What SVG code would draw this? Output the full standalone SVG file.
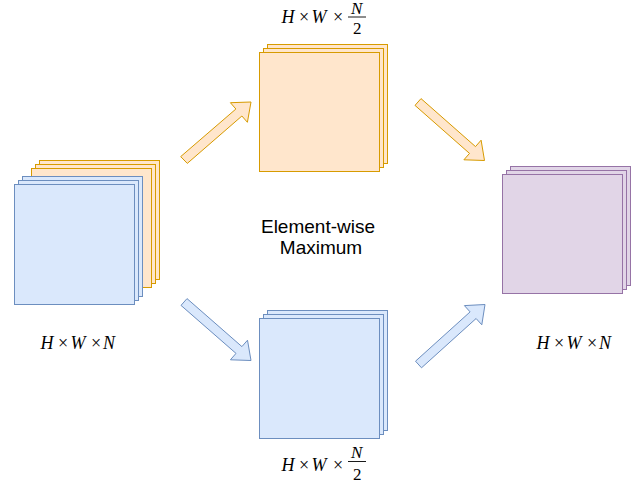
<svg xmlns="http://www.w3.org/2000/svg" width="641" height="486" viewBox="0 0 641 486">
<style>
.o{fill:#ffe6cc;stroke:#d79b00;stroke-width:1}
.b{fill:#dae8fc;stroke:#6c8ebf;stroke-width:1}
.p{fill:#e1d5e7;stroke:#9673a6;stroke-width:1}
.m{font-family:"Liberation Serif","Times New Roman",serif;font-size:18px;fill:#000}
.f{font-size:17px}
.i{font-style:italic}
.t{font-family:"Liberation Sans",Arial,Helvetica,sans-serif;font-size:19px;fill:#000;text-anchor:middle}
</style>
<rect width="641" height="486" fill="#ffffff"/>
<g id="input-stack">
<rect class="o" x="39.5" y="160.5" width="120" height="119"/>
<rect class="o" x="35.5" y="164.5" width="120" height="119"/>
<rect class="o" x="31.5" y="168.5" width="120" height="119"/>
<rect class="b" x="22.5" y="176.5" width="120" height="120"/>
<rect class="b" x="18.5" y="180.5" width="120" height="120"/>
<rect class="b" x="14.5" y="184.5" width="120" height="120"/>
</g>
<g id="top-stack">
<rect class="o" x="267.5" y="44.5" width="120" height="119"/>
<rect class="o" x="263.5" y="48.5" width="120" height="119"/>
<rect class="o" x="259.5" y="52.5" width="120" height="119"/>
</g>
<g id="bottom-stack">
<rect class="b" x="267.5" y="310.5" width="120" height="120"/>
<rect class="b" x="263.5" y="314.5" width="120" height="120"/>
<rect class="b" x="259.5" y="318.5" width="120" height="120"/>
</g>
<g id="output-stack">
<rect class="p" x="510.5" y="166.5" width="120" height="119"/>
<rect class="p" x="506.5" y="170.5" width="120" height="119"/>
<rect class="p" x="502.5" y="174.5" width="120" height="119"/>
</g>
<g id="connectors">
<polygon class="o" points="180.7,156.6 235.9,109.0 230.4,102.7 251,102 247.4,122.3 241.9,116.0 187.3,163.4"/>
<polygon class="o" points="421.0,98.6 475.5,146.6 481.1,140.2 484.5,160.5 463.9,159.8 469.5,153.4 415.0,105.4"/>
<polygon class="b" points="187.0,298.6 241.9,346.6 247.5,340.2 251,360.5 230.4,359.8 236.0,353.4 181.0,305.4"/>
<polygon class="b" points="415.5,361.2 470.1,311.9 464.4,305.6 485,304.5 481.8,324.8 476.1,318.5 421.5,367.8"/>
</g>
<g id="label-center">
<text class="t" x="318" y="233">Element-wise</text>
<text class="t" x="321" y="254">Maximum</text>
</g>
<g id="label-input">
<text class="m" y="349"><tspan class="i" x="40.5">H</tspan><tspan x="58">×</tspan><tspan class="i" x="70.5">W</tspan><tspan x="91">×</tspan><tspan class="i" x="103">N</tspan></text>
</g>
<g id="label-output">
<text class="m" y="349"><tspan class="i" x="536.5">H</tspan><tspan x="554">×</tspan><tspan class="i" x="566.5">W</tspan><tspan x="587">×</tspan><tspan class="i" x="599">N</tspan></text>
</g>
<g id="label-top">
<text class="m" y="22.5"><tspan class="i" x="281.5">H</tspan><tspan x="299">×</tspan><tspan class="i" x="311.5">W</tspan><tspan x="333">×</tspan></text>
<text class="m f i" x="351" y="14">N</text>
<line x1="348" y1="17" x2="366" y2="17" stroke="#000" stroke-width="0.9"/>
<text class="m f" x="353" y="33.5">2</text>
</g>
<g id="label-bottom">
<text class="m" y="471"><tspan class="i" x="281.5">H</tspan><tspan x="299">×</tspan><tspan class="i" x="311.5">W</tspan><tspan x="333">×</tspan></text>
<text class="m f i" x="351" y="458">N</text>
<line x1="348" y1="461.5" x2="366" y2="461.5" stroke="#000" stroke-width="0.9"/>
<text class="m f" x="353" y="480">2</text>
</g>
</svg>
